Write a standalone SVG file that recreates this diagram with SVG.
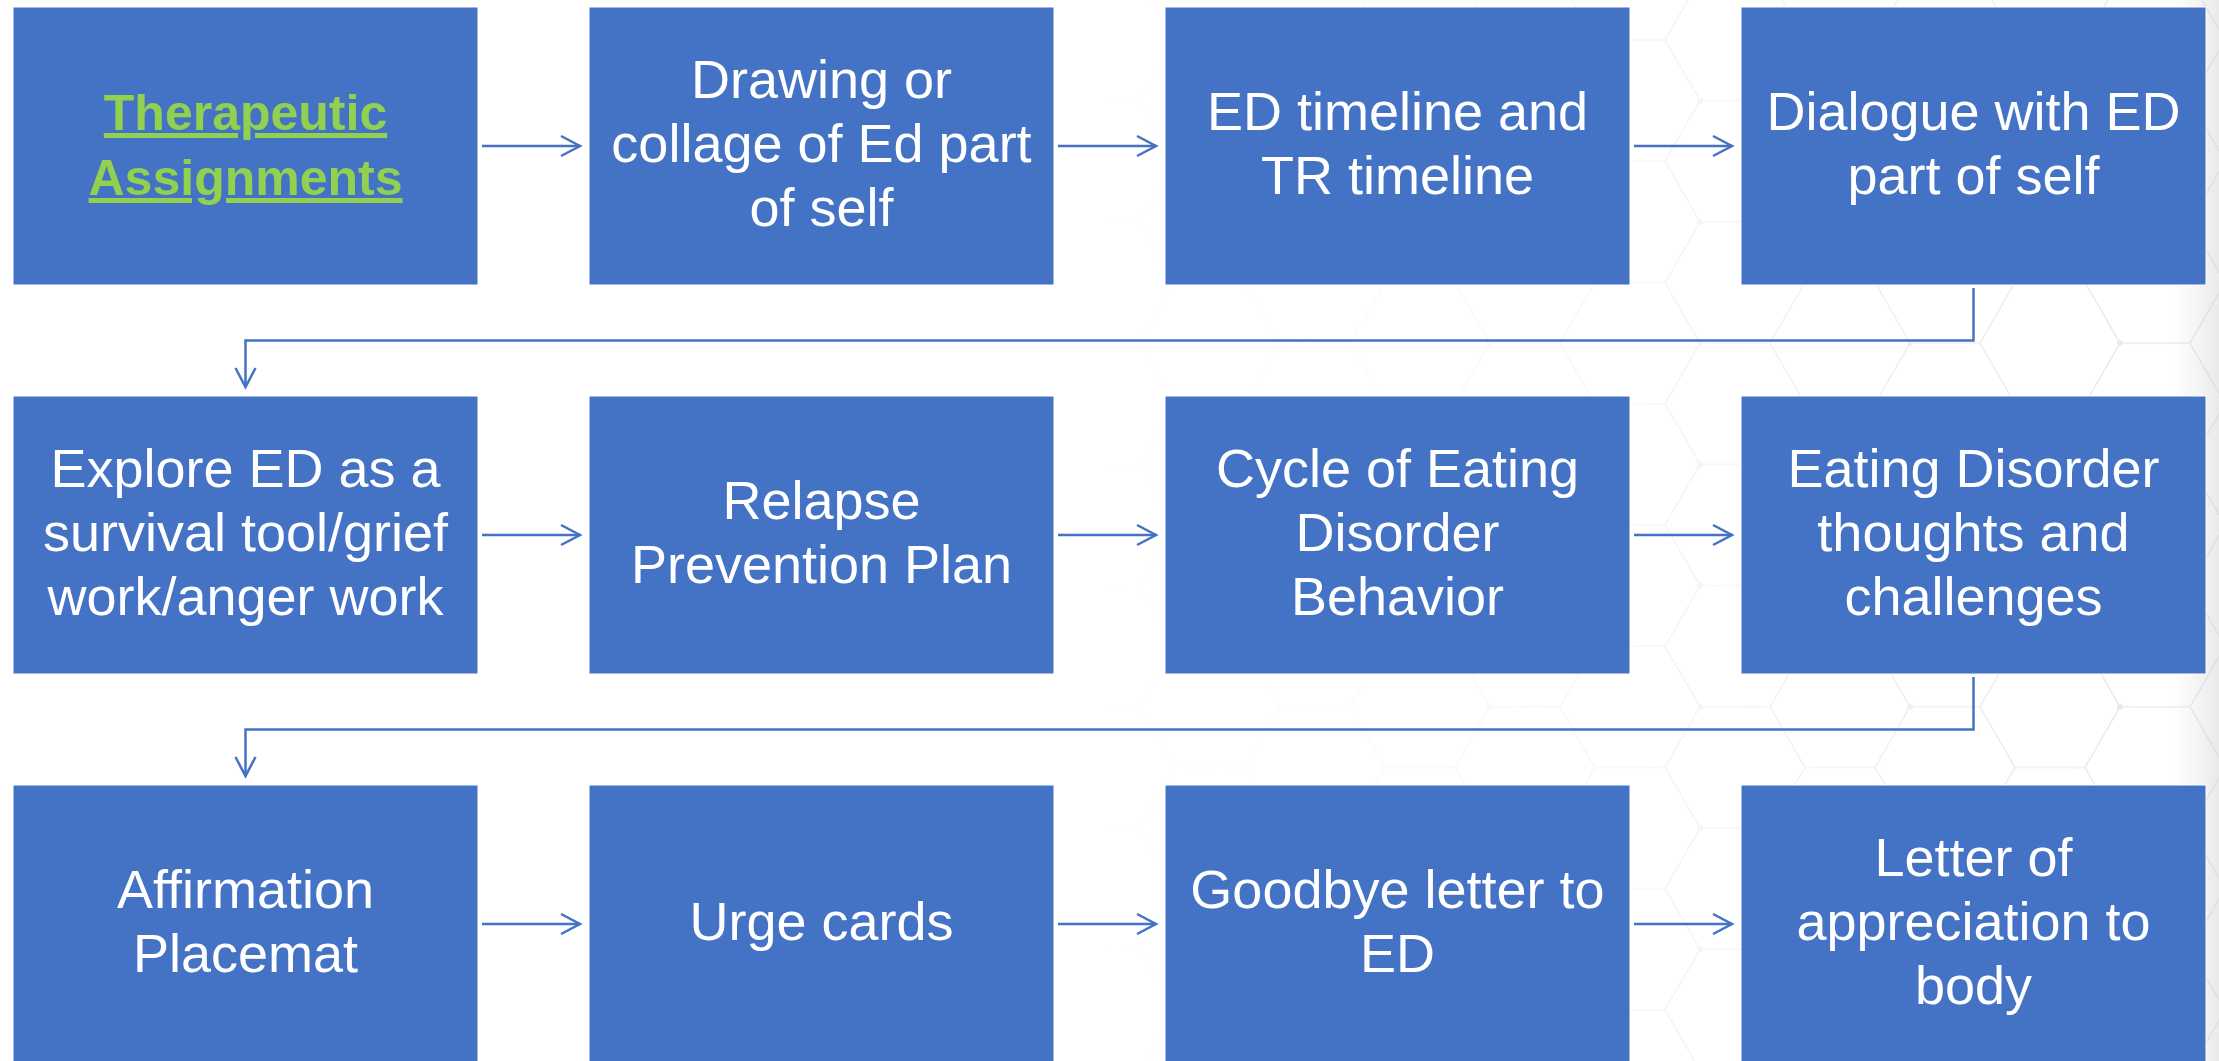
<svg xmlns="http://www.w3.org/2000/svg" width="2219" height="1061" viewBox="0 0 2219 1061">
  <style>
    .box { fill: #4472C4; stroke: #ffffff; stroke-width: 1; }
    .lbl { font-family: "Liberation Sans", Arial, sans-serif; font-size: 54px; fill: #ffffff; text-anchor: middle; }
    .title { font-family: "Liberation Sans", Arial, sans-serif; font-size: 50px; font-weight: bold; fill: #92D050; text-anchor: middle; text-decoration: underline; }
    .conn { fill: none; stroke: #4472C4; stroke-width: 2.5; }
    .hex { fill: none; stroke: #d4d4d4; stroke-width: 1.2; }
  </style>
  <defs>
    <marker id="arr" markerUnits="userSpaceOnUse" markerWidth="24" markerHeight="24" refX="19" refY="11" orient="auto" overflow="visible">
      <path d="M0,1 L19,11 L0,21" fill="none" stroke="#4472C4" stroke-width="2.5" stroke-linejoin="miter"/>
    </marker>
    <pattern id="honey" patternUnits="userSpaceOnUse" width="210" height="121.24" x="1560" y="40">
      <path class="hex" d="M140,60.62 L105,121.24 L35,121.24 L0,60.62 L35,0 L105,0 Z M140,60.62 L210,60.62"/>
      <circle cx="140" cy="60.62" r="3" fill="#dcdcdc"/>
    </pattern>
    <linearGradient id="fadeG" x1="1100" y1="0" x2="2219" y2="0" gradientUnits="userSpaceOnUse">
      <stop offset="0" stop-color="#fff" stop-opacity="0"/>
      <stop offset="0.45" stop-color="#fff" stop-opacity="0.25"/>
      <stop offset="1" stop-color="#fff" stop-opacity="0.7"/>
    </linearGradient>
    <mask id="fade">
      <rect x="1100" y="0" width="1119" height="1061" fill="url(#fadeG)"/>
    </mask>
    <linearGradient id="edge" x1="2170" y1="0" x2="2219" y2="0" gradientUnits="userSpaceOnUse">
      <stop offset="0" stop-color="#e0e0e0" stop-opacity="0"/>
      <stop offset="1" stop-color="#d4d4d4" stop-opacity="0.5"/>
    </linearGradient>
  </defs>

  <rect width="2219" height="1061" fill="#ffffff"/>
  <g id="background">
    <rect x="1100" y="0" width="1119" height="1061" fill="url(#honey)" mask="url(#fade)"/>
    <rect x="2170" y="0" width="49" height="1061" fill="url(#edge)"/>
  </g>

  <g id="connectors">
    <path class="conn" d="M482,146 H580" marker-end="url(#arr)"/>
    <path class="conn" d="M1058,146 H1156" marker-end="url(#arr)"/>
    <path class="conn" d="M1634,146 H1732" marker-end="url(#arr)"/>
    <path class="conn" d="M1973.5,288 V340.5 H245.5 V387" marker-end="url(#arr)"/>
    <path class="conn" d="M482,535 H580" marker-end="url(#arr)"/>
    <path class="conn" d="M1058,535 H1156" marker-end="url(#arr)"/>
    <path class="conn" d="M1634,535 H1732" marker-end="url(#arr)"/>
    <path class="conn" d="M1973.5,677 V729.5 H245.5 V776" marker-end="url(#arr)"/>
    <path class="conn" d="M482,924 H580" marker-end="url(#arr)"/>
    <path class="conn" d="M1058,924 H1156" marker-end="url(#arr)"/>
    <path class="conn" d="M1634,924 H1732" marker-end="url(#arr)"/>
  </g>

  <g id="n1">
    <rect class="box" x="13" y="7" width="465" height="278"/>
    <text class="title" x="245.5" y="130">Therapeutic</text>
    <text class="title" x="245.5" y="195">Assignments</text>
  </g>
  <g id="n2">
    <rect class="box" x="589" y="7" width="465" height="278"/>
    <text class="lbl" x="821.5" y="98">Drawing or</text>
    <text class="lbl" x="821.5" y="162">collage of Ed part</text>
    <text class="lbl" x="821.5" y="226">of self</text>
  </g>
  <g id="n3">
    <rect class="box" x="1165" y="7" width="465" height="278"/>
    <text class="lbl" x="1397.5" y="130">ED timeline and</text>
    <text class="lbl" x="1397.5" y="194">TR timeline</text>
  </g>
  <g id="n4">
    <rect class="box" x="1741" y="7" width="465" height="278"/>
    <text class="lbl" x="1973.5" y="130">Dialogue with ED</text>
    <text class="lbl" x="1973.5" y="194">part of self</text>
  </g>

  <g id="n5">
    <rect class="box" x="13" y="396" width="465" height="278"/>
    <text class="lbl" x="245.5" y="487">Explore ED as a</text>
    <text class="lbl" x="245.5" y="551">survival tool/grief</text>
    <text class="lbl" x="245.5" y="615">work/anger work</text>
  </g>
  <g id="n6">
    <rect class="box" x="589" y="396" width="465" height="278"/>
    <text class="lbl" x="821.5" y="519">Relapse</text>
    <text class="lbl" x="821.5" y="583">Prevention Plan</text>
  </g>
  <g id="n7">
    <rect class="box" x="1165" y="396" width="465" height="278"/>
    <text class="lbl" x="1397.5" y="487">Cycle of Eating</text>
    <text class="lbl" x="1397.5" y="551">Disorder</text>
    <text class="lbl" x="1397.5" y="615">Behavior</text>
  </g>
  <g id="n8">
    <rect class="box" x="1741" y="396" width="465" height="278"/>
    <text class="lbl" x="1973.5" y="487">Eating Disorder</text>
    <text class="lbl" x="1973.5" y="551">thoughts and</text>
    <text class="lbl" x="1973.5" y="615">challenges</text>
  </g>

  <g id="n9">
    <rect class="box" x="13" y="785" width="465" height="278"/>
    <text class="lbl" x="245.5" y="908">Affirmation</text>
    <text class="lbl" x="245.5" y="972">Placemat</text>
  </g>
  <g id="n10">
    <rect class="box" x="589" y="785" width="465" height="278"/>
    <text class="lbl" x="821.5" y="940">Urge cards</text>
  </g>
  <g id="n11">
    <rect class="box" x="1165" y="785" width="465" height="278"/>
    <text class="lbl" x="1397.5" y="908">Goodbye letter to</text>
    <text class="lbl" x="1397.5" y="972">ED</text>
  </g>
  <g id="n12">
    <rect class="box" x="1741" y="785" width="465" height="278"/>
    <text class="lbl" x="1973.5" y="876">Letter of</text>
    <text class="lbl" x="1973.5" y="940">appreciation to</text>
    <text class="lbl" x="1973.5" y="1004">body</text>
  </g>
</svg>
